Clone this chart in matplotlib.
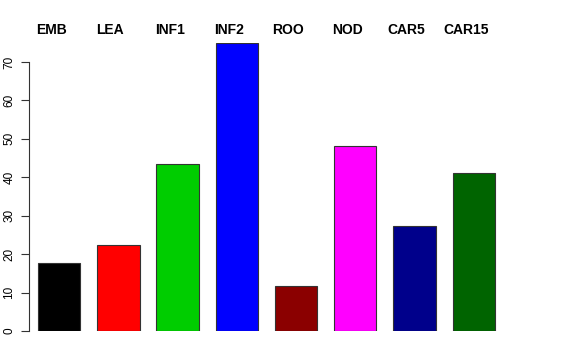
import numpy as np
import matplotlib.pyplot as plt

# --- Data ---
tissues = ["EMB", "LEA", "INF1", "INF2", "ROO", "NOD", "CAR5", "CAR15"]
values = [17.7, 22.3, 43.4, 75.0, 11.8, 48.1, 27.3, 41.0]
colors = ["#000000", "#FF0000", "#00CD00", "#0000FF",
          "#8B0000", "#FF00FF", "#00008B", "#006400"]
yticks = [0, 10, 20, 30, 40, 50, 60, 70]

# --- Layout (R barplot look) ---
W, H = 576, 360
fig = plt.figure(figsize=(W / 100, H / 100), dpi=100)
ax_left, ax_right, ax_bottom, ax_top = 29, 560, 331, 42.8
ax = fig.add_axes([ax_left / W, (H - ax_bottom) / H,
                   (ax_right - ax_left) / W, (ax_bottom - ax_top) / H])

unit = 42.3  # pixels per bar width
step = 1.4
x = np.arange(len(tissues)) * step
ax.bar(x, values, width=1.0, align="edge", color=colors,
       edgecolor="#333333", linewidth=0.8)

x0 = -(38 - ax_left) / unit
ax.set_xlim(x0, x0 + (ax_right - ax_left) / unit)
ax.set_ylim(0, 75)

for s in ["top", "right", "bottom"]:
    ax.spines[s].set_visible(False)
ax.spines["left"].set_bounds(0, 70)
ax.spines["left"].set_color("#333333")
ax.set_xticks([])
ax.set_yticks(yticks)
ax.set_yticklabels([str(t) for t in yticks], rotation=90, va="center",
                   fontsize=8.5, family="Liberation Sans")
ax.tick_params(axis="y", length=5.8, width=0.8, color="#333333", pad=4)

# labels on top, slightly left of bar centres
for xi, name in zip(x, tissues):
    ax.text(xi + 0.5 - 8 / unit, 1.0 + (ax_top - 30) / (ax_bottom - ax_top),
            name, transform=ax.get_xaxis_transform(), ha="center",
            va="center", fontsize=10, fontweight="bold",
            family="Liberation Sans", clip_on=False)

plt.savefig("out.png", dpi=100)
